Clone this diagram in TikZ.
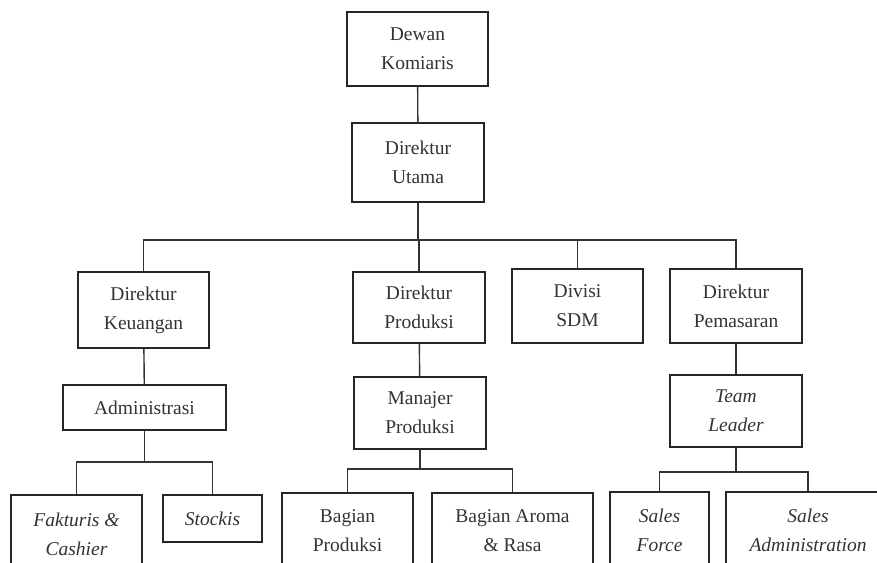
\documentclass[tikz,border=0pt]{standalone}
\usepackage{fontspec}
\setmainfont{Liberation Serif}
\begin{document}
\begin{tikzpicture}[x=1pt,y=-1pt,
  orgbox/.style={draw=black!85, line width=2pt, inner sep=0pt, align=center,
    text=black!80, font=\fontsize{19.5}{29}\selectfont},
  link/.style={draw=black!80, line width=1.4pt}]
\clip (0,0) rectangle (877,562);
\fill[white] (0,0) rectangle (877,562);
% level 0-1
\node[orgbox, minimum width=141pt, minimum height=74pt] (dewan) at (417.5,49) {Dewan\\Komiaris};
\node[orgbox, minimum width=132pt, minimum height=79pt] (utama) at (418,162.5) {Direktur\\Utama};
% level 2
\node[orgbox, minimum width=131pt, minimum height=76pt] (keu) at (143.5,310) {Direktur\\Keuangan};
\node[orgbox, minimum width=132pt, minimum height=71pt] (prod) at (419,307.5) {Direktur\\Produksi};
\node[orgbox, minimum width=131pt, minimum height=74pt] (sdm) at (577.5,306) {Divisi\\SDM};
\node[orgbox, minimum width=132pt, minimum height=74pt] (pem) at (736,306) {Direktur\\Pemasaran};
% level 3
\node[orgbox, minimum width=163pt, minimum height=45pt] (adm) at (144.5,407.5) {Administrasi};
\node[orgbox, minimum width=132pt, minimum height=72pt] (man) at (420,413) {Manajer\\Produksi};
\node[orgbox, minimum width=132pt, minimum height=72pt] (team) at (736,411) {\itshape Team\\\itshape Leader};
% level 4
\node[orgbox, minimum width=131pt, minimum height=78pt] (fak) at (76.5,534) {\itshape Fakturis \&\\\itshape Cashier};
\node[orgbox, minimum width=99pt, minimum height=47pt] (stock) at (212.5,518.5) {\itshape Stockis};
\node[orgbox, minimum width=131pt, minimum height=76pt] (bprod) at (347.5,531) {Bagian\\Produksi};
\node[orgbox, minimum width=161pt, minimum height=76pt] (aroma) at (512.5,531) {Bagian Aroma\\\& Rasa};
\node[orgbox, minimum width=99pt, minimum height=76pt] (sforce) at (659.5,530) {\itshape Sales\\\itshape Force};
\node[orgbox, minimum width=164pt, minimum height=76pt] (sadm) at (808,530) {\itshape Sales\\\itshape Administration};
% junctions
\coordinate (jtop) at (418,240);
\coordinate (jadm) at (144.5,462);
\coordinate (jman) at (420,469);
\coordinate (jteam) at (736,472);
% connectors
\draw[link] (dewan) -- (utama);
\draw[link] (utama) -- (jtop);
\draw[link] (keu.north) |- (jtop) -| (pem.north);
\draw[link] (prod.north) |- (jtop);
\draw[link] (sdm.north) |- (jtop);
\draw[link] (keu) -- (adm);
\draw[link] (prod) -- (man);
\draw[link] (pem) -- (team);
\draw[link] (adm) -- (jadm);
\draw[link] (fak.north) |- (jadm) -| (stock.north);
\draw[link] (man) -- (jman);
\draw[link] (bprod.north) |- (jman) -| (aroma.north);
\draw[link] (team) -- (jteam);
\draw[link] (sforce.north) |- (jteam) -| (sadm.north);
\end{tikzpicture}
\end{document}
